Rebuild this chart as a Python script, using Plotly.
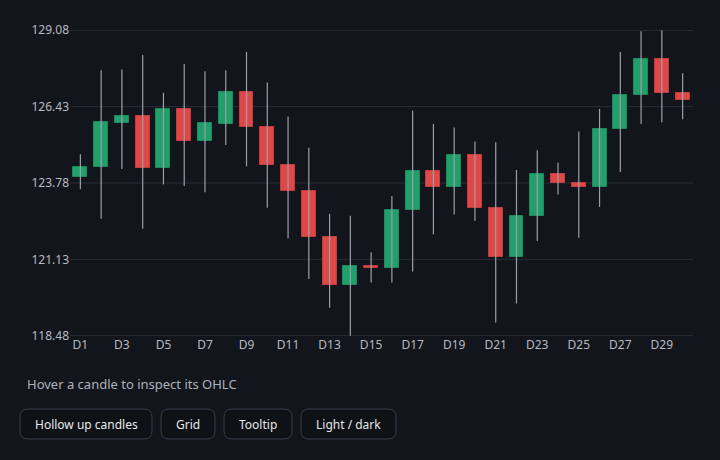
"""
Candlestick chart, dark theme, with a row of toggle buttons below it.
"""
import plotly.graph_objects as go

# ── Data ───────────────────────────────────────────────────────────────────────
days = [f"D{i}" for i in range(1, 31)]
opens = [123.98, 124.33, 125.87, 126.11, 124.30, 126.34, 125.24, 125.84, 126.95, 125.74,
         124.42, 123.51, 121.90, 120.23, 120.89, 120.84, 122.83, 124.18, 123.64, 124.76,
         122.92, 121.21, 122.63, 124.10, 123.77, 123.65, 125.67, 126.84, 128.10, 126.90]
highs = [124.78, 127.69, 127.72, 128.22, 126.91, 127.91, 127.66, 127.69, 128.33, 127.27,
         126.09, 125.00, 122.71, 122.64, 121.38, 123.33, 126.30, 125.83, 125.71, 125.22,
         125.19, 124.23, 124.92, 124.48, 125.57, 126.35, 128.33, 129.05, 129.08, 127.59]
lows = [123.56, 122.54, 124.27, 122.19, 123.73, 123.68, 123.46, 125.10, 124.36, 122.92,
        121.86, 120.45, 119.45, 118.48, 120.33, 120.33, 120.71, 122.00, 122.69, 122.46,
        118.94, 119.60, 121.77, 123.38, 121.88, 122.95, 124.16, 125.83, 125.89, 125.99]
closes = [124.35, 125.90, 126.11, 124.30, 126.34, 125.24, 125.87, 126.95, 125.74, 124.42,
          123.51, 121.90, 120.23, 120.89, 120.84, 122.83, 124.18, 123.64, 124.76, 122.92,
          121.21, 122.63, 124.10, 123.77, 123.65, 125.67, 126.84, 128.10, 126.90, 126.65]
y_ticks = [118.48, 121.13, 123.78, 126.43, 129.08]
tick_days = days[::2]
buttons = ["Hollow up candles", "Grid", "Tooltip", "Light / dark"]

# ── Style ──────────────────────────────────────────────────────────────────────
W, H = 720, 460
BG = "#12151c"
UP, DOWN = "#22a06b", "#e04848"
UP_EDGE, DOWN_EDGE = "#1b8a5a", "#c23c3c"
WICK = "#9aa0aa"
GRID = "#2a2e37"
FONT = "Noto Sans, Open Sans, sans-serif"

# wick segments
wx, wy = [], []
for d, h, l in zip(days, highs, lows):
    wx += [d, d, None]
    wy += [l, h, None]

base = [min(o, c) for o, c in zip(opens, closes)]
size = [abs(c - o) for o, c in zip(opens, closes)]
fill = [UP if c >= o else DOWN for o, c in zip(opens, closes)]
edge = [UP_EDGE if c >= o else DOWN_EDGE for o, c in zip(opens, closes)]

fig = go.Figure()
fig.add_trace(go.Scatter(x=wx, y=wy, mode="lines",
                         line=dict(color=WICK, width=1.2),
                         hoverinfo="skip", showlegend=False))
fig.add_trace(go.Bar(
    x=days, y=size, base=base, width=0.67,
    marker=dict(color=fill, line=dict(color=edge, width=1)),
    customdata=list(zip(opens, highs, lows, closes)),
    hovertemplate="%{x}<br>O %{customdata[0]:.2f}<br>H %{customdata[1]:.2f}"
                  "<br>L %{customdata[2]:.2f}<br>C %{customdata[3]:.2f}<extra></extra>",
    showlegend=False))

# plot area in pixels
px_l, px_r, px_t, px_b = 70, 693, 30, 336
pad = 0.01

fig.update_layout(
    width=W, height=H,
    margin=dict(l=0, r=0, t=0, b=0, autoexpand=False),
    paper_bgcolor=BG, plot_bgcolor=BG,
    font=dict(family=FONT, color="#b6bac2", size=12),
    bargap=0,
    xaxis=dict(domain=[px_l / W, px_r / W], type="category", automargin=False,
               range=[-0.5, 29.5], tickvals=tick_days, ticktext=tick_days,
               showgrid=False, zeroline=False, showline=False,
               ticks="", tickfont=dict(size=12, color="#b6bac2")),
    yaxis=dict(domain=[1 - px_b / H, 1 - px_t / H], automargin=False,
               range=[y_ticks[0] - pad, y_ticks[-1] + pad],
               tickvals=y_ticks, ticktext=[f"{v:.2f}" for v in y_ticks],
               showgrid=False, zeroline=False, showline=False, ticks="",
               tickfont=dict(size=12, color="#b6bac2")),
)

# grid drawn as shapes so the edge lines (min / max) show too
for v in y_ticks:
    fig.add_shape(type="line", xref="x domain", yref="y", x0=0, x1=1, y0=v, y1=v,
                  line=dict(color=GRID, width=1), layer="below")

fig.add_annotation(text="Hover a candle to inspect its OHLC",
                   xref="paper", yref="paper", x=25 / W, y=1 - 384 / H,
                   xanchor="left", yanchor="middle", showarrow=False,
                   font=dict(size=13, color="#aeb2ba", family=FONT))


def rounded(x0, y0, x1, y1, r):
    # pixel rect -> paper-space path with rounded corners
    def X(v):
        return v / W

    def Y(v):
        return 1 - v / H
    return (f"M {X(x0 + r)},{Y(y0)} L {X(x1 - r)},{Y(y0)} "
            f"Q {X(x1)},{Y(y0)} {X(x1)},{Y(y0 + r)} L {X(x1)},{Y(y1 - r)} "
            f"Q {X(x1)},{Y(y1)} {X(x1 - r)},{Y(y1)} L {X(x0 + r)},{Y(y1)} "
            f"Q {X(x0)},{Y(y1)} {X(x0)},{Y(y1 - r)} L {X(x0)},{Y(y0 + r)} "
            f"Q {X(x0)},{Y(y0)} {X(x0 + r)},{Y(y0)} Z")


btn_x = [(20, 152), (161, 215), (224, 292), (301, 396)]
for label, (bx0, bx1) in zip(buttons, btn_x):
    fig.add_shape(type="path", xref="paper", yref="paper",
                  path=rounded(bx0, 409, bx1, 439, 8),
                  fillcolor="#0e1116", line=dict(color="#363c4a", width=1))
    fig.add_annotation(text=label, xref="paper", yref="paper",
                       x=(bx0 + bx1) / 2 / W, y=1 - 424 / H,
                       xanchor="center", yanchor="middle", showarrow=False,
                       font=dict(size=12, color="#e6e8ec", family=FONT))

fig.write_html("out.html", config={"displayModeBar": False},
               post_script="document.body.style.margin='0';"
                           f"document.body.style.background='{BG}';")
